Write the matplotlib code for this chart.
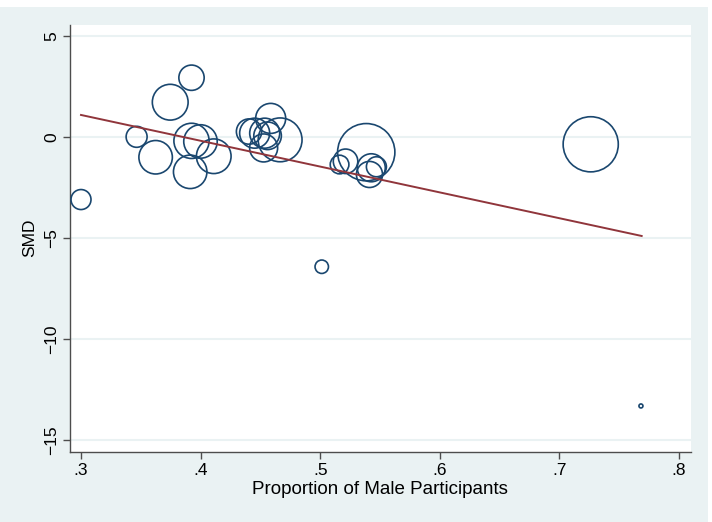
import numpy as np
import matplotlib
matplotlib.use('Agg')
from matplotlib import pyplot as plt
from matplotlib.patches import Rectangle

# study-level data: proportion male, SMD, bubble weight
prop_male = [0.300, 0.3465, 0.3624, 0.3746, 0.3924, 0.3924, 0.3999, 0.3913, 0.411,
             0.4405, 0.4452, 0.4586, 0.4536, 0.4527, 0.4665, 0.4560,
             0.5162, 0.5212, 0.5385, 0.5427, 0.5412, 0.5470,
             0.5013, 0.7262, 0.7682]
smd = [-3.10, 0.00, -1.01, 1.71, 2.92, -0.20, -0.23, -1.73, -0.96,
       0.26, 0.18, 0.91, 0.18, -0.55, -0.15, 0.05,
       -1.37, -1.21, -0.76, -1.53, -1.86, -1.48,
       -6.42, -0.37, -13.30]
weight = [100, 110, 280, 320, 160, 310, 280, 280, 300,
          160, 225, 225, 225, 196, 480, 190,
          87, 150, 820, 196, 170, 100,
          45, 760, 4]

# meta-regression fit line
fit_x = [0.300, 0.7688]
fit_y = [1.08, -4.90]

xticks = [0.3, 0.4, 0.5, 0.6, 0.7, 0.8]
xticklabels = ['.3', '.4', '.5', '.6', '.7', '.8']
yticks = [5, 0, -5, -10, -15]
yticklabels = ['5', '0', '\u22125', '\u221210', '\u221215']

NAVY = '#1a476f'
MAROON = '#90353b'
BG = '#eaf2f3'

plt.rcParams['font.family'] = ['Liberation Sans', 'DejaVu Sans']

fig = plt.figure(figsize=(7.12, 5.22), dpi=100, facecolor='white')
fig.patches.append(Rectangle((0, 0), 708/712, 515/522, transform=fig.transFigure,
                             facecolor=BG, edgecolor='none', zorder=-10))

ax = fig.add_axes([70/712, 70.3/522, 620.7/712, 427/522])
ax.set_facecolor('white')

# marker size: radius in px ~ sqrt(weight)
diam_pt = 2 * np.sqrt(np.array(weight)) * 0.72
ax.scatter(prop_male, smd, s=diam_pt**2, facecolors='none', edgecolors=NAVY,
           linewidths=1.2, zorder=3)
ax.plot(fit_x, fit_y, color=MAROON, lw=1.4, zorder=4)

ax.set_xlim(0.2908, 0.8098)
ax.set_ylim(-15.56, 5.54)
ax.set_xticks(xticks)
ax.set_xticklabels(xticklabels)
ax.set_yticks(yticks)
ax.set_yticklabels(yticklabels, rotation=90, va='center')

ax.grid(axis='y', color=BG, lw=1.5, zorder=0)
ax.set_axisbelow(True)
for side in ['top', 'right']:
    ax.spines[side].set_visible(False)
for side in ['left', 'bottom']:
    ax.spines[side].set_color('#4d4d4d')
    ax.spines[side].set_linewidth(1.0)
ax.tick_params(direction='out', length=5, width=1, color='#4d4d4d',
               labelsize=12.5, pad=3)

ax.set_xlabel('Proportion of Male Participants', fontsize=13.5, labelpad=2)
ax.set_ylabel('SMD', fontsize=12.5, labelpad=5)

fig.savefig('out.png', dpi=100, facecolor=fig.get_facecolor())
